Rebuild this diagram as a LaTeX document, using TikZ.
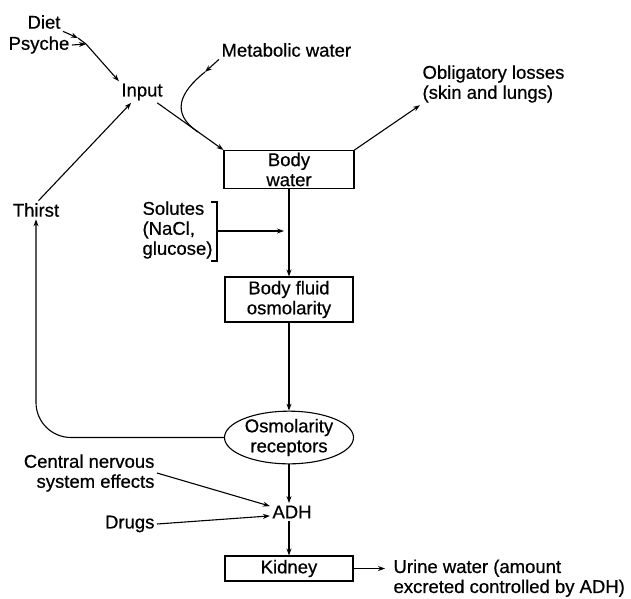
\documentclass[tikz,border=0pt]{standalone}
\usepackage{fontspec}
\setmainfont{Liberation Sans}[FakeBold=0.6]
\usetikzlibrary{shapes.geometric, arrows.meta, positioning, calc}
\tikzset{
    lbl/.style={inner sep=2pt, align=center},
    box/.style={rectangle, draw, inner sep=0pt, align=center},
    oval/.style={ellipse, draw, inner sep=0pt, align=center},
    arr/.style={->, >={Stealth[length=7pt, width=5pt]}}
}

\begin{document}
\begin{tikzpicture}[x=1pt, y=-1pt, line width=1.1pt,
        font=\fontsize{18.5}{20}\selectfont]
    \useasboundingbox (0,0) rectangle (631,598);
    % intake side
    \node[lbl] (diet) at (44,22) {Diet};
    \node[lbl] (psyche) at (39,45) {Psyche};
    \node[lbl] (input) at (142,92) {Input};
    \node[lbl, anchor=west] (metab) at (219,50) {Metabolic water};
    \node[lbl] (thirst) at (36,210) {Thirst};
    % main chain
    \node[box, minimum width=130pt, minimum height=38pt] (water) at (289,169.5) {Body\\water};
    \node[lbl, anchor=west, align=left] (losses) at (420,84) {Obligatory losses\\(skin and lungs)};
    \node[lbl, anchor=west, align=left] (solutes) at (140,230) {Solutes\\(NaCl,\\glucose)};
    \node[box, minimum width=128pt, minimum height=45pt] (fluid) at (289,299.5) {Body fluid\\osmolarity};
    \node[oval, minimum width=129pt, minimum height=51pt] (recept) at (289,437.5) {Osmolarity\\receptors};
    \node[lbl] (adh) at (292,512) {ADH};
    \node[lbl, anchor=east, align=right] (cns) at (157,473) {Central nervous\\system effects};
    \node[lbl, anchor=east] (drugs) at (157,524) {Drugs};
    \node[box, minimum width=128pt, minimum height=25pt] (kidney) at (289,568.5) {Kidney};
    \node[lbl, anchor=north west, align=left] (urine) at (391,557) {Urine water (amount\\excreted controlled by ADH)};

    % free ends on the input lines
    \coordinate (dietmid) at (78,38);
    \coordinate (psyjoin) at (86,44);
    \coordinate (mwtip) at (205,72);
    \coordinate (mwjoin) at (198,132);

    \draw[arr] (diet.south east) -- (dietmid);
    \draw (dietmid) -- (psyjoin);
    \draw[arr] (psyche.east) -- (psyjoin);
    \draw[arr] (psyjoin) -- (input.north west);
    \draw[arr] (thirst.75) -- (input.225);
    \draw[arr] (input) -- (water.north west);
    \draw[arr] (metab.south west) -- (mwtip);
    \draw (mwtip) .. controls (180,92) and (170,113) .. (mwjoin);
    \draw[arr] (water.north east) -- (losses.south west);

    % solutes bracket
    \coordinate (brtop) at (217,202);
    \coordinate (brbot) at (217,261);
    \coordinate (brmid) at (217,231);
    \draw ($(brtop)+(-6,0)$) -- (brtop) -- (brbot) -- ++(-6,0);
    \draw[arr, shorten >=5pt] (brmid) -- (brmid -| fluid);

    \draw[arr] (water) -- (fluid);
    \draw[arr] (fluid) -- (recept);
    \draw[arr, rounded corners=35pt] (recept.west) -| (thirst.south);
    \draw[arr] (recept) -- (adh.north -| recept);
    \draw[arr] (cns.east) -- (adh.165);
    \draw[arr] (drugs.east) -- (adh.190);
    \draw[arr] (adh.south -| kidney) -- (kidney);
    \draw[arr, shorten >=6pt] (kidney.east) -- (kidney.east -| urine.west);
\end{tikzpicture}
\end{document}
